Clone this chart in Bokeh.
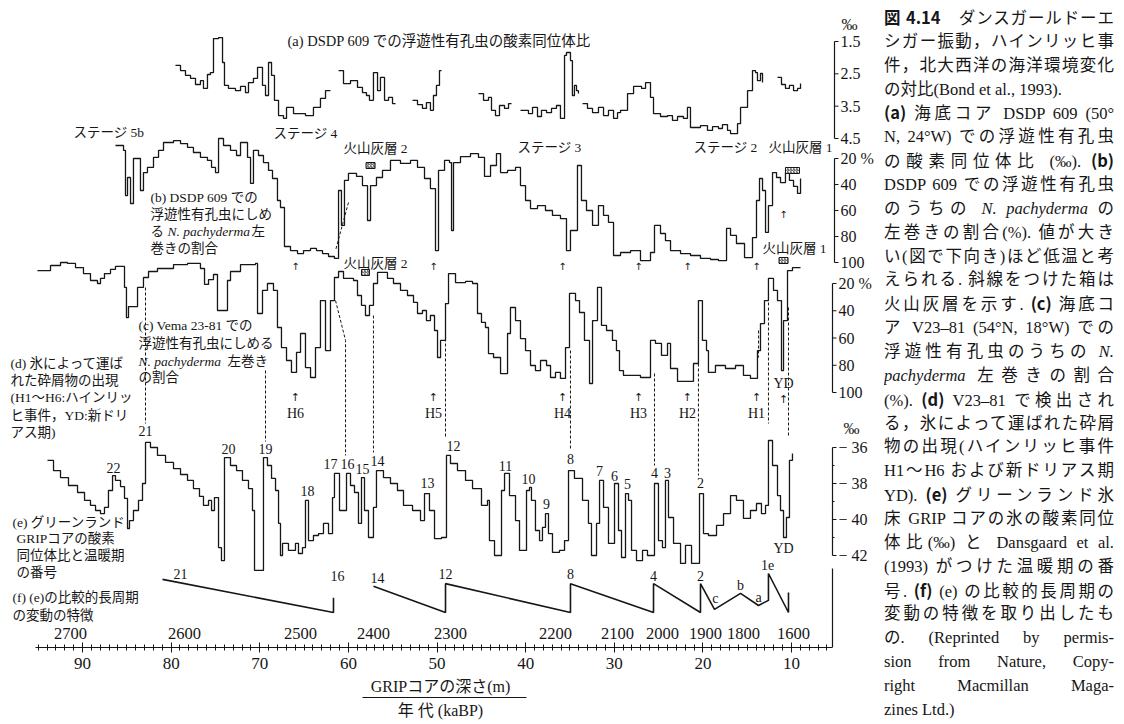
import math
from bokeh.plotting import figure
from bokeh.models import Range1d, LinearAxis, FixedTicker, Div
from bokeh.layouts import row
from bokeh.core.properties import value
from bokeh.embed import file_html
from bokeh.resources import INLINE

NaN = float("nan")

# ---------------- data (age in kaBP) ----------------
# (a) DSDP 609 planktonic foraminifera d18O (permil), gaps = NaN
a_age = [79.51, 78.94, 78.38, 77.81, 77.25, 76.69, 76.35, 75.90, 75.56, 75.22,
         74.65, 74.20, 73.98, 73.53, 72.74, 72.17, 71.61, 71.27, 70.71, 70.25,
         69.69, 69.35, 69.01, 68.67, 68.34, 67.88, 67.32, 66.98, 66.19, 64.84,
         63.94, 63.15, 62.58, 62.02, NaN,
         61.11, 60.55, 59.76, 58.97, 58.41, 57.96, 57.62, 57.17, 56.71, 56.38,
         55.92, 55.47, 55.02, 54.68, NaN,
         52.76, 52.20, 51.64, 51.19, 50.74, 50.40, 50.06, 49.72, 49.49, NaN,
         45.32, 44.75, 44.19, 43.85, 43.40, 42.95, 42.38, 41.93, 41.59, NaN,
         40.58, 39.68, 39.22, 38.66, 38.21, 37.64, 37.08, 36.52, 36.07, 35.61,
         35.39, 34.94, 34.72, 34.49, 34.26, 34.04, NaN,
         33.58, 33.02, 32.45, 31.78, 31.21, 30.65, 30.08, 29.63, 29.29, 28.50,
         27.82, 26.92, 26.47, 25.91, 25.57, 24.78, 23.99, 23.43, 22.86, 22.19,
         21.74, 21.40, 20.27, 19.48, 18.91, 18.24, 17.79, 17.22, 16.88, 16.09,
         15.75, 14.96, 14.40, 14.06, 13.84, 13.50, 13.27, NaN,
         11.58, 11.13, 10.68, 10.23, 9.77, 9.32, 8.98]
a_val = [2.24, 2.40, 2.55, 2.64, 2.83, 2.71, 2.95, 2.52, 2.46, 1.41,
         1.38, 2.15, 2.86, 2.95, 3.02, 2.89, 3.08, 2.77, 2.64, 2.30,
         2.86, 3.17, 2.15, 2.55, 3.32, 3.79, 3.88, 3.54, 3.73, 3.79,
         3.54, 3.26, 3.02, 3.02, NaN,
         2.40, 2.80, 2.71, 2.92, 3.08, 3.17, 3.32, 2.46, 3.02, 2.61,
         3.32, 3.23, 3.42, 3.42, NaN,
         3.32, 3.45, 3.57, 3.39, 3.63, 3.17, 2.86, 2.40, 2.40, NaN,
         3.11, 3.32, 3.23, 3.63, 3.79, 3.48, 3.57, 3.42, 3.42, NaN,
         3.63, 3.73, 3.54, 3.82, 3.63, 3.70, 3.57, 3.48, 3.88, 1.93,
         1.84, 2.09, 3.17, 2.86, 3.02, 3.11, NaN,
         3.42, 3.57, 3.70, 3.54, 3.79, 3.63, 3.88, 3.70, 3.63, 3.11,
         2.89, 2.95, 2.77, 3.23, 3.73, 3.82, 3.79, 3.94, 3.82, 3.88,
         3.54, 4.16, 4.10, 4.25, 4.13, 4.19, 4.07, 4.25, 4.35, 4.04,
         3.54, 3.02, 2.40, 2.46, 2.71, 2.49, 2.77, NaN,
         2.61, 2.83, 2.95, 2.86, 3.02, 2.95, 2.80]

# (b) DSDP 609 N. pachyderma (s) percent
b_age = [86.28, 85.37, 85.15, 84.92, 84.58, 84.25, 83.46, 83.12, 82.67, 81.99,
         81.42, 80.86, 79.73, 78.94, 78.15, 77.48, 76.69, 75.90, 75.44, 74.99,
         74.65, 74.09, 73.30, 72.62, 72.17, 71.38, 71.04, 70.71, 70.14, 69.58,
         69.01, 68.56, 68.00, 67.66, 67.21, 66.53, 65.74, 65.06, 64.27, 63.60,
         62.92, 62.24, 61.57, 61.11, 60.78, 60.44, 59.99, 59.08, 58.41, 57.84,
         57.50, 56.83, 56.15, 55.25, 54.12, 52.99, 52.20, 51.41, 50.74, 50.17,
         49.83, 49.15, 48.59, 48.36, 48.14, 47.35, 46.22, 45.32, 44.64, 43.96,
         43.29, 42.83, 42.04, 41.14, 40.58, 40.01, 39.45, 38.66, 37.76, 36.97,
         36.07, 35.39, 34.94, 34.15, 33.70, 33.13, 32.45, 31.78, 31.21, 30.65,
         30.08, 29.29, 28.16, 27.04, 25.91, 25.46, 24.78, 24.22, 23.65, 22.52,
         21.40, 20.27, 19.14, 18.24, 17.33, 16.88, 16.21, 15.30, 14.40, 13.95,
         13.61, 13.27, 12.93, 12.60, 12.14, 11.69, 11.24, 10.68, 10.23, 9.77,
         9.32, 8.98]
b_val = [10.0, 13.8, 48.5, 34.6, 54.6, 20.0, 44.6, 30.8, 26.9, 19.2,
         13.8, 7.7, 6.2, 8.5, 11.5, 15.4, 19.2, 21.5, 26.9, 30.8,
         4.6, 10.0, 13.8, 17.7, 7.7, 19.2, 39.2, 13.8, 17.7, 23.1,
         29.2, 35.4, 52.3, 57.7, 87.7, 90.8, 93.1, 90.8, 89.2, 90.8,
         93.1, 95.4, 96.9, 44.6, 71.5, 36.9, 31.5, 33.8, 40.8, 67.7,
         40.8, 34.6, 29.2, 21.5, 23.8, 21.5, 26.9, 35.4, 43.1, 90.8,
         29.2, 21.5, 23.1, 75.4, 23.1, 18.5, 16.2, 19.2, 33.8, 25.4,
         16.2, 30.8, 29.2, 26.9, 40.8, 52.3, 58.5, 56.2, 60.0, 63.8,
         66.2, 90.8, 75.4, 25.4, 52.3, 60.0, 71.5, 56.2, 63.8, 69.2,
         94.6, 92.3, 90.8, 98.5, 92.3, 71.5, 77.7, 83.1, 90.8, 93.1,
         94.6, 96.9, 97.7, 98.5, 73.8, 79.2, 85.4, 96.2, 80.8, 52.3,
         35.4, 44.6, 76.9, 56.2, 30.8, 34.6, 38.5, 30.8, 36.9, 41.5,
         46.9, 35.4]

# (c) V23-81 N. pachyderma (s) percent
c_age = [95.08, 93.61, 92.48, 91.69, 90.79, 89.89, 89.10, 88.31, 87.97, 87.52,
         86.84, 86.28, 85.71, 85.26, 85.04, 84.81, 83.79, 83.12, 82.55, 81.54,
         79.73, 78.15, 76.69, 76.23, 75.78, 75.22, 74.77, 74.20, 73.64, 73.30,
         72.17, 70.48, 70.25, 69.69, 69.13, 68.45, 68.00, 67.55, 66.98, 66.42,
         65.85, 65.40, 64.84, 64.27, 63.71, 63.15, 62.58, 62.02, 61.57, 61.11,
         60.55, 59.42, 58.97, 58.52, 58.07, 57.62, 57.17, 56.71, 55.59, 54.91,
         54.12, 53.33, 52.65, 52.20, 51.64, 51.19, 50.74, 50.28, 49.94, 49.60,
         49.04, 48.70, 47.91, 46.78, 45.99, 45.43, 44.98, 44.53, 44.19, 43.62,
         42.83, 42.04, 41.71, 41.14, 40.58, 40.01, 39.45, 38.89, 38.32, 37.64,
         37.19, 36.63, 36.07, 35.50, 35.05, 34.37, 33.92, 33.36, 32.79, 32.45,
         31.89, 31.44, 30.87, 30.20, 29.75, 29.41, 28.96, 27.04, 25.91, 25.35,
         24.67, 23.99, 23.65, 22.86, 21.06, 20.50, 20.05, 19.59, 19.37, 18.58,
         17.45, 16.32, 15.42, 14.63, 13.84, 13.50, 13.05, 12.60, 12.03, 11.58,
         11.13, 10.90, 10.45, 9.89, 8.98]
c_val = [10.5, 6.8, 4.6, 5.3, 8.3, 12.7, 17.8, 20.0, 16.3, 12.7,
         9.7, 7.5, 7.5, 22.9, 45.0, 36.9, 22.9, 15.6, 11.2, 9.0,
         6.1, 5.3, 9.0, 20.7, 17.1, 13.4, 39.8, 39.8, 17.8, 11.2,
         6.1, 5.3, 42.0, 25.1, 20.0, 25.1, 52.3, 67.0, 76.5, 85.3,
         70.6, 56.7, 81.7, 89.0, 67.0, 32.5, 69.2, 32.5, 15.6, 11.2,
         16.3, 17.8, 28.8, 36.1, 43.5, 36.1, 20.0, 11.9, 16.3, 20.0,
         25.1, 28.8, 33.9, 42.0, 39.8, 47.2, 43.5, 54.5, 74.3, 61.8,
         34.7, 12.7, 19.3, 18.5, 20.0, 42.0, 48.6, 52.3, 71.4, 74.3,
         86.1, 56.7, 37.6, 47.2, 60.4, 69.2, 80.2, 83.9, 76.5, 80.2,
         89.0, 85.3, 89.7, 67.0, 27.3, 32.5, 41.3, 61.8, 93.4, 47.2,
         22.9, 50.8, 54.5, 61.8, 69.2, 83.9, 87.5, 89.0, 61.8, 64.0,
         72.8, 64.0, 82.4, 91.9, 78.7, 32.5, 61.8, 69.2, 85.3, 80.2,
         82.4, 80.2, 87.5, 89.7, 69.2, 49.4, 32.5, 16.3, 25.1, 32.5,
         83.9, 47.2, 10.5, 8.3, 8.3]

# (e) GRIP ice d18O (permil)
e_age = [93.95, 93.27, 92.48, 91.58, 90.56, 89.77, 89.10, 88.53, 87.97, 87.52,
         87.07, 86.61, 86.28, 85.71, 85.26, 84.92, 84.70, 84.25, 83.68, 83.23,
         82.89, 82.33, 81.54, 80.63, 79.73, 78.94, 78.15, 77.48, 76.80, 76.35,
         75.78, 75.44, 75.11, 74.65, 74.32, 73.98, 73.30, 72.62, 71.95, 71.27,
         70.82, 70.59, 69.80, 69.58, 69.13, 68.67, 68.22, 67.88, 67.66, 67.43,
         66.76, 65.97, 65.63, 65.18, 64.84, 64.50, 63.94, 63.37, 62.81, 62.24,
         61.79, 61.57, 61.00, 60.21, 59.76, 59.31, 58.86, 58.52, 58.18, 57.73,
         57.17, 56.83, 56.04, 55.25, 54.46, 53.78, 52.76, 51.86, 51.41, 50.85,
         50.28, 49.49, 48.93, 48.48, 47.69, 46.78, 45.99, 44.98, 44.30, 44.08,
         43.51, 42.72, 42.38, 41.82, 41.14, 40.69, 39.90, 39.56, 39.34, 38.89,
         38.43, 38.10, 37.76, 37.42, 36.97, 36.18, 35.61, 35.16, 34.49, 33.58,
         32.91, 32.57, 32.00, 31.66, 31.21, 30.65, 29.97, 29.52, 29.18, 28.73,
         28.39, 28.05, 27.49, 26.81, 26.25, 25.46, 25.01, 24.56, 24.22, 23.88,
         23.31, 22.52, 21.96, 21.28, 20.38, 19.93, 19.37, 18.46, 17.67, 16.88,
         16.21, 15.42, 14.63, 13.95, 13.39, 12.93, 12.60, 12.14, 11.58, 11.24,
         10.90, 10.57, 10.23, 9.89]
e_val = [-36.72, -37.28, -37.67, -38.11, -38.50, -38.94, -39.22, -39.50, -39.67, -39.33,
         -38.39, -37.56, -37.83, -38.17, -38.83, -40.50, -40.06, -39.50, -38.94, -38.00,
         -35.72, -36.00, -36.44, -36.83, -37.17, -37.50, -37.83, -38.28, -38.72, -39.22,
         -38.94, -39.50, -38.78, -41.56, -42.28, -36.56, -37.00, -37.28, -37.83, -38.28,
         -39.50, -42.83, -42.83, -36.56, -37.00, -37.72, -38.39, -40.22, -42.00, -41.33,
         -41.72, -41.33, -41.89, -41.56, -38.94, -41.17, -40.89, -40.78, -40.22, -40.78,
         -38.78, -37.44, -39.50, -37.44, -38.11, -38.50, -40.22, -37.67, -39.50, -41.00,
         -39.33, -37.28, -37.67, -38.00, -38.39, -39.22, -39.50, -40.06, -38.56, -39.50,
         -41.06, -41.00, -36.44, -36.89, -37.28, -37.83, -38.28, -39.22, -38.94, -41.17,
         -42.00, -38.39, -37.44, -38.67, -40.06, -41.72, -38.39, -38.22, -38.94, -40.61,
         -41.17, -40.44, -39.67, -40.78, -41.83, -41.72, -41.17, -37.28, -37.72, -38.94,
         -40.22, -42.00, -40.22, -37.83, -39.33, -41.33, -38.00, -40.61, -42.11, -38.56,
         -38.94, -41.72, -42.28, -41.72, -42.00, -38.00, -41.17, -41.56, -37.83, -39.89,
         -41.33, -42.44, -41.44, -42.44, -38.56, -40.78, -40.89, -40.33, -39.67, -38.67,
         -38.94, -39.94, -39.50, -39.11, -39.67, -39.22, -35.61, -37.00, -38.67, -39.50,
         -41.00, -39.89, -36.72, -36.33]

# (f) schematic long-period features of (e) (relative level 0..1)
f_age = [80.97, 61.68, 61.68, NaN, 57.17, 49.04, 49.04, 34.94, 34.94, 25.57,
         25.57, 20.27, 20.27, 18.69, 15.75, 13.72, 12.60, 12.60, 10.34, 10.34]
f_level = [0.85, 0.00, 0.38, NaN, 0.67, 0.00, 0.74, 0.00, 0.74, 0.00,
           0.74, 0.00, 0.74, 0.08, 0.49, 0.18, 0.31, 1.00, 0.00, 0.51]
f_labels = ["21", "16", "14", "12", "8", "4", "2", "c", "b", "a", "1e"]
f_lab_age = [78.94, 61.23, 56.71, 49.04, 34.94, 25.57, 20.27, 18.58, 15.75, 13.72, 12.71]

# (d) Heinrich events + Younger Dryas
h_labels = ["H6", "H5", "H4", "H3", "H2", "H1", "YD"]
h_age = [65.97, 50.40, 35.84, 27.26, 21.74, 13.95, 10.90]

# Dansgaard-Oeschger interstadial numbers (GRIP)
is_labels = ["22", "21", "20", "19", "18", "17", "16", "15", "14", "13", "12",
             "11", "10", "9", "8", "7", "6", "5", "4", "3", "2", "YD"]
is_age = [86.50, 82.89, 73.53, 69.35, 64.61, 62.02, 60.10, 58.41, 56.71, 51.07, 48.14,
          42.27, 39.68, 37.64, 34.94, 31.66, 29.97, 28.50, 25.46, 23.99, 20.27, 10.90]

# volcanic ash layers (hatched boxes)
ash_age = [57.50, 9.89, 58.07, 10.90]

# correlation lines (c -> e)
conn_age = [[82.89, 82.89], [69.35, 69.35], [59.99, 61.45], [61.45, 60.32, 60.32],
            [57.17, 57.17], [49.04, 49.04], [34.94, 34.94], [25.46, 25.46],
            [20.50, 20.50], [12.60, 12.60], [10.34, 10.34], [13.72, 13.72]]

# axis ticks
ka_ticks = [10, 20, 30, 40, 50, 60, 70, 80, 90]
depth_labels = ["2700", "2600", "2500", "2400", "2300", "2200", "2100", "2000", "1900", "1800", "1600"]
depth_age = [91.35, 78.49, 65.40, 57.17, 48.48, 36.63, 29.63, 24.56, 19.70, 15.42, 9.77]
a_ticks = [1.5, 2.5, 3.5, 4.5]
pct_ticks = [20, 40, 60, 80, 100]
e_ticks = [-36, -38, -40, -42]
e_minor = [-37, -39, -41]

# ---------------- layout ----------------
INK = "#161616"
SERIF = "Liberation Serif, Noto Sans CJK JP"
SYM = "DejaVu Sans"
W, H = 880, 722
BOTTOM = 75
PX_L, PX_R = 0, W              # page-pixel columns covered by the figure
PX_T, PX_B = 0, H - BOTTOM     # page-pixel rows covered by the frame


def ka_of_px(px):
    return 90 - (px - 82) / 8.8625


def span(v1, y1, v2, y2):
    s = (v2 - v1) / (y2 - y1)
    return Range1d(start=v1 + (PX_B - y1) * s, end=v1 + (PX_T - y1) * s)


p = figure(width=W, height=H,
           x_range=Range1d(ka_of_px(PX_L), ka_of_px(PX_R)),
           y_range=Range1d(PX_B, PX_T),
           output_backend="svg", toolbar_location=None, y_axis_location=None,
           min_border_left=0, min_border_right=0, min_border_top=0,
           min_border_bottom=BOTTOM, outline_line_color=None,
           background_fill_color="white", border_fill_color="white")
p.grid.visible = False
p.extra_x_ranges = {"px": Range1d(PX_L, PX_R)}
p.extra_y_ranges = {
    "a": span(1.5, 41, 4.5, 138),
    "b": span(20, 158, 100, 262),
    "c": span(20, 283, 100, 392),
    "e": span(-36, 447, -42, 555),
    "f": span(0, 612, 1, 573),
}

# bottom axis (age), with GRIP depth as title
xa = p.xaxis[0]
xa.ticker = FixedTicker(ticks=ka_ticks, minor_ticks=[k for k in range(6, 96) if k % 10])
xa.bounds = (5.35, 95.3)
xa.axis_line_color = INK
xa.axis_line_width = 1.2
xa.major_tick_line_color = INK
xa.minor_tick_line_color = INK
xa.major_tick_in = 5
xa.major_tick_out = 5
xa.minor_tick_in = 3
xa.minor_tick_out = 3
xa.major_label_standoff = 5
xa.major_label_text_font = SERIF
xa.major_label_text_font_size = "17px"
xa.major_label_text_color = INK
xa.axis_label = "GRIPコアの深さ(m)"
xa.axis_label_text_font = SERIF
xa.axis_label_text_font_size = "16px"
xa.axis_label_text_font_style = "normal"
xa.axis_label_text_color = INK
xa.axis_label_standoff = 6

ax2 = LinearAxis(ticker=FixedTicker(ticks=[]), bounds=(39.9, 58.4),
                 axis_label="年 代 (kaBP)", axis_label_text_font=SERIF,
                 axis_label_text_font_size="16px", axis_label_text_font_style="normal",
                 axis_label_text_color=INK, axis_label_standoff=4,
                 major_tick_in=0, major_tick_out=0, minor_tick_in=0, minor_tick_out=0,
                 major_label_standoff=0, axis_line_color=INK, axis_line_width=1)
p.add_layout(ax2, "below")


def split(xs, ys):
    out, cx, cy = [], [], []
    for x, y in zip(xs, ys):
        if math.isnan(x) or math.isnan(y):
            if cx:
                out.append((cx, cy))
            cx, cy = [], []
        else:
            cx.append(x)
            cy.append(y)
    if cx:
        out.append((cx, cy))
    return out


for name, xs, ys in (("a", a_age, a_val), ("b", b_age, b_val), ("c", c_age, c_val), ("e", e_age, e_val)):
    for sx, sy in split(xs, ys):
        p.step(sx, sy, mode="after", y_range_name=name, line_color=INK, line_width=1.3)

for sx, sy in split(f_age, f_level):
    p.line(sx, sy, y_range_name="f", line_color=INK, line_width=1.6)

conn_y = [[287, 423], [370, 441], [202, 250], [300, 340, 455], [315, 452], [303, 437],
          [350, 450], [373, 465], [363, 475], [287, 423], [307, 435], [330, 357]]
p.multi_line(conn_age, conn_y, line_color=INK, line_width=1, line_dash="3 2")

p.rect(x=ash_age, y=[165, 170, 272, 260], width=[9, 14, 8, 9], height=6,
       width_units="screen", height_units="screen", fill_color="white",
       line_color=INK, line_width=1, hatch_pattern="/", hatch_color=INK,
       hatch_scale=3, hatch_weight=0.8)


def txt(x, y, t, size, font=SERIF, style="normal", align="left", xr="px", yr="default"):
    p.text(x=x, y=y, text=t, x_range_name=xr, y_range_name=yr,
           text_font=value(font), text_font_size=f"{size}px", text_font_style=style,
           text_align=align, text_baseline="middle", text_color=INK)


# right-hand panel axes
def vaxis(name, ticks, labels, axx, lab_x, minor=()):
    p.segment(x0=[axx], y0=[ticks[0]], x1=[axx], y1=[ticks[-1]], x_range_name="px",
              y_range_name=name, line_color=INK, line_width=1.2)
    p.segment(x0=[axx] * len(ticks), y0=ticks, x1=[axx + 4] * len(ticks), y1=ticks,
              x_range_name="px", y_range_name=name, line_color=INK, line_width=1)
    if minor:
        p.segment(x0=[axx] * len(minor), y0=list(minor), x1=[axx + 2] * len(minor),
                  y1=list(minor), x_range_name="px", y_range_name=name,
                  line_color=INK, line_width=1)
    txt([lab_x] * len(ticks), ticks, labels, 16, yr=name)


vaxis("a", a_ticks, [f"{t:.1f}" for t in a_ticks], 834, 840)
pct_lab = [f"{t} %" if i == 0 else f"{t}" for i, t in enumerate(pct_ticks)]
vaxis("b", pct_ticks, pct_lab, 834, 840)
vaxis("c", pct_ticks, pct_lab, 832, 838)
vaxis("e", e_ticks, [f"\u2212 {abs(t)}" for t in e_ticks], 832, 838, minor=e_minor)
txt([841, 843], [24, 428], ["‰", "‰"], 16)
p.segment(x0=[832], y0=[568], x1=[832], y1=[PX_B], x_range_name="px",
          line_color=INK, line_width=1.2)

# depth labels above the age axis
txt(depth_age, [633] * len(depth_age), depth_labels, 16.5, align="center", xr="default")

# panel texts
txt([287], [40], ["(a) DSDP 609 での浮遊性有孔虫の酸素同位体比"], 14.5)
txt([73, 273, 517, 693], [132, 133, 147, 147],
    ["ステージ 5b", "ステージ 4", "ステージ 3", "ステージ 2"], 13.5)
txt([343, 768, 343, 762], [148, 147, 263, 248],
    ["火山灰層 2", "火山灰層 1", "火山灰層 2", "火山灰層 1"], 13.5)
txt([150, 150, 150], [197, 214, 248], ["(b) DSDP 609 での", "浮遊性有孔虫にしめ", "巻きの割合"], 13.5)
txt([150, 251], [231, 231], ["る", "左"], 13.5)
txt([167], [231], ["N. pachyderma"], 13.5, style="italic")
txt([138, 138, 138], [325, 343, 377], ["(c) Vema 23-81 での", "浮遊性有孔虫にしめる", "の割合"], 13.5)
txt([138], [361], ["N. pachyderma"], 13.5, style="italic")
txt([227], [361], ["左巻き"], 13.5)
txt([10] * 5, [363, 380, 397, 415, 432],
    ["(d) 氷によって運ば", "れた砕屑物の出現", "(H1〜H6:ハインリッ", "ヒ事件，YD:新ドリ", "アス期)"], 13.5)
txt([12, 16, 16, 16], [522, 538, 555, 572],
    ["(e) グリーンランド", "GRIPコアの酸素", "同位体比と温暖期", "の番号"], 13.5)
txt([12, 12], [597, 615], ["(f) (e)の比較的長周期", "の変動の特徴"], 13.5)

# Heinrich events and arrows
txt(h_age, [413] * 6 + [383], h_labels, 14, align="center", xr="default")
txt(h_age, [397] * 6 + [399], ["↑"] * 7, 11, font=SYM, align="center", xr="default")
txt(h_age, [266] * 6 + [214], ["↑"] * 7, 10, font=SYM, align="center", xr="default")

# interstadial numbers
is_y = [467, 430, 448, 448, 490, 463, 463, 468, 460, 482, 445,
        465, 478, 503, 458, 470, 475, 483, 472, 472, 482, 548]
txt(is_age, is_y, is_labels, 14, align="center", xr="default")
txt(f_lab_age, [573, 575, 577, 573, 573, 575, 575, 598, 585, 597, 564], f_labels, 14,
    align="center", xr="default")

# ---------------- caption ----------------
IB = '<span style="display:inline-block">'
cap = [
    "<b>図 4.14</b>　ダンスガールドーエ",
    "シガー振動，ハインリッヒ事",
    "件，北大西洋の海洋環境変化",
    "の対比(Bond et al., 1993).",
    "<b>(a)</b> 海底コア DSDP 609 (50°",
    "N, 24°W) での浮遊性有孔虫",
    f"の酸素同位体比 {IB}(‰).</span> <b>(b)</b>",
    "DSDP 609 での浮遊性有孔虫",
    "のうちの <i>N. pachyderma</i> の",
    "左巻きの割合(%). 値が大き",
    "い(図で下向き)ほど低温と考",
    "えられる. 斜線をつけた箱は",
    "火山灰層を示す. <b>(c)</b> 海底コ",
    "ア V23–81 (54°N, 18°W) での",
    "浮遊性有孔虫のうちの <i>N.</i>",
    "<i>pachyderma</i> 左巻きの割合",
    "(%). <b>(d)</b> V23–81 で検出され",
    "る，氷によって運ばれた砕屑",
    "物の出現(ハインリッヒ事件",
    "H1〜H6 および新ドリアス期",
    "YD). <b>(e)</b> グリーンランド氷",
    "床 GRIP コアの氷の酸素同位",
    f"体比{IB}(‰)</span> と Dansgaard et al.",
    "(1993) がつけた温暖期の番",
    "号. <b>(f)</b> (e) の比較的長周期の",
    "変動の特徴を取り出したも",
    f"{IB}の.</span> (Reprinted by permis-",
    "sion from Nature, Copy-",
    "right Macmillan Maga-",
    "zines Ltd.)",
]
LEFT_LINES = {3, 29}
LH = "23.86px"
line_css = (f"height:{LH};line-height:{LH};overflow:hidden;text-align:justify;"
            "text-align-last:justify;")
rows_html = []
for i, line in enumerate(cap):
    css = line_css if i not in LEFT_LINES else f"height:{LH};line-height:{LH};text-align:left;"
    rows_html.append(f'<div style="{css}">{line}</div>')
html = ('<div style="font-family:\'Liberation Serif\',\'Noto Sans CJK JP\',serif;'
        'font-size:16.5px;color:#161616;padding:6px 0 0 4px;width:234px;">'
        + "".join(rows_html) + "</div>")
html = html.replace("<b>", '<b style="font-family:\'Noto Sans CJK JP\',sans-serif;">')
caption = Div(text=html, width=242, height=H, margin=(0, 0, 0, 0),
              styles={"overflow": "hidden"})

layout = row(p, caption)
open("out.html", "w").write(file_html(layout, INLINE))
